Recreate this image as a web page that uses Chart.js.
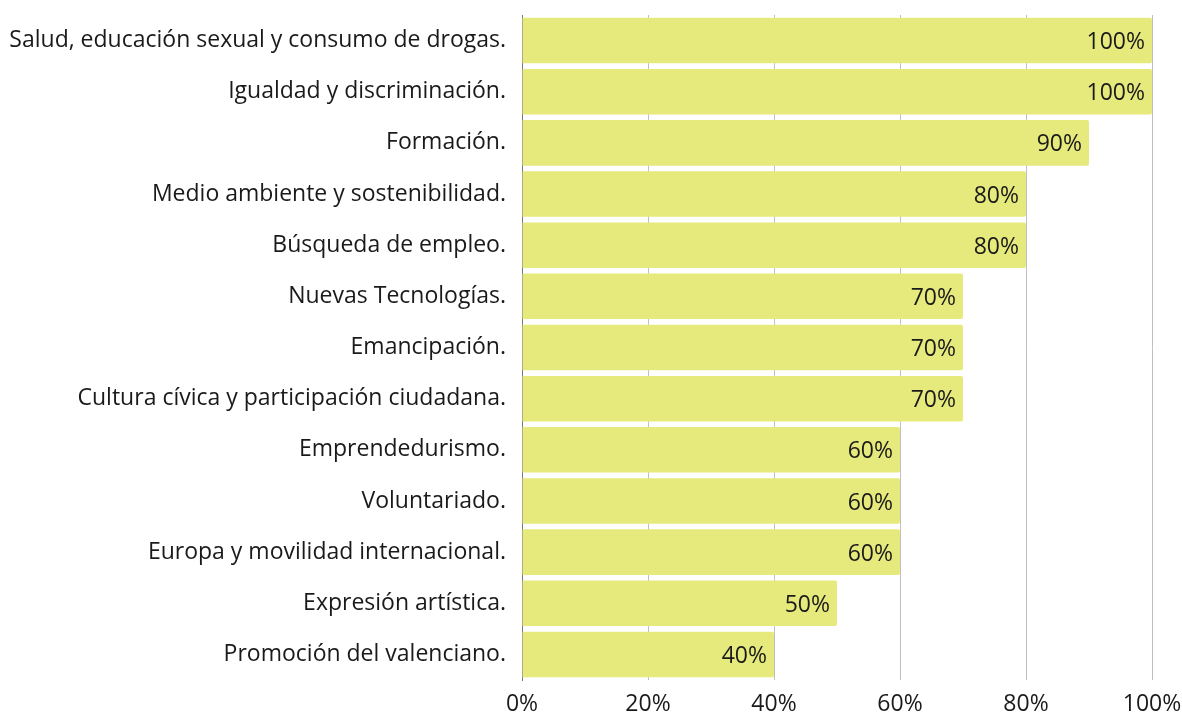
<!DOCTYPE html>
<html><head><meta charset="utf-8">
<script src="https://cdn.jsdelivr.net/npm/chart.js@4/dist/chart.umd.min.js"></script>
<style>html,body{margin:0;padding:0;background:#fff}#wrap{width:1182px;height:715px}</style>
</head><body><div id="wrap"><canvas id="c" width="1182" height="715"></canvas></div>
<script>
const categories = ["Salud, educación sexual y consumo de drogas.","Igualdad y discriminación.","Formación.","Medio ambiente y sostenibilidad.","Búsqueda de empleo.","Nuevas Tecnologías.","Emancipación.","Cultura cívica y participación ciudadana.","Emprendedurismo.","Voluntariado.","Europa y movilidad internacional.","Expresión artística.","Promoción del valenciano."];
const values = [100,100,90,80,80,70,70,70,60,60,60,50,40];
const xTicks = [0,20,40,60,80,100];

const labelPlugin = {
  id:'barLabels',
  afterDatasetsDraw(chart){
    const ctx = chart.ctx;
    const meta = chart.getDatasetMeta(0);
    ctx.save();
    ctx.font = '23px "Open Sans"';
    ctx.fillStyle = '#1a1a1a';
    ctx.textAlign = 'right';
    ctx.textBaseline = 'middle';
    meta.data.forEach((bar,i)=>{
      ctx.fillText(values[i]+'%', bar.x-7, bar.y+2);
    });
    ctx.restore();
  }
};

new Chart(document.getElementById('c'),{
  type:'bar',
  data:{labels:categories,datasets:[{data:values,backgroundColor:'#e6e97b',borderRadius:2,borderSkipped:'start',barPercentage:0.89,categoryPercentage:1}]},
  options:{
    indexAxis:'y',responsive:false,animation:false,
    layout:{padding:{top:15,right:0,left:0,bottom:0}},
    plugins:{legend:{display:false},tooltip:{enabled:false}},
    scales:{
      x:{min:0,max:100,
        afterBuildTicks(s){s.ticks = xTicks.map(v=>({value:v}));},
        afterFit(s){s.paddingLeft=0;s.paddingRight=30;s.height=35;},
        grid:{color:'#c0c0c0',lineWidth:1,drawTicks:false},
        border:{display:false},
        ticks:{padding:11,color:'#1a1a1a',font:{family:'"Open Sans"',size:23},callback:v=>v+'%',maxRotation:0}
      },
      y:{
        afterFit(s){s.width=522;s.paddingTop=0;s.paddingBottom=0;},
        grid:{display:false,drawTicks:false},
        border:{display:true,color:'#777',width:1},
        ticks:{padding:16,color:'#1a1a1a',font:{family:'"Open Sans"',size:23},autoSkip:false}
      }
    }
  },
  plugins:[labelPlugin]
});
</script></body></html>
